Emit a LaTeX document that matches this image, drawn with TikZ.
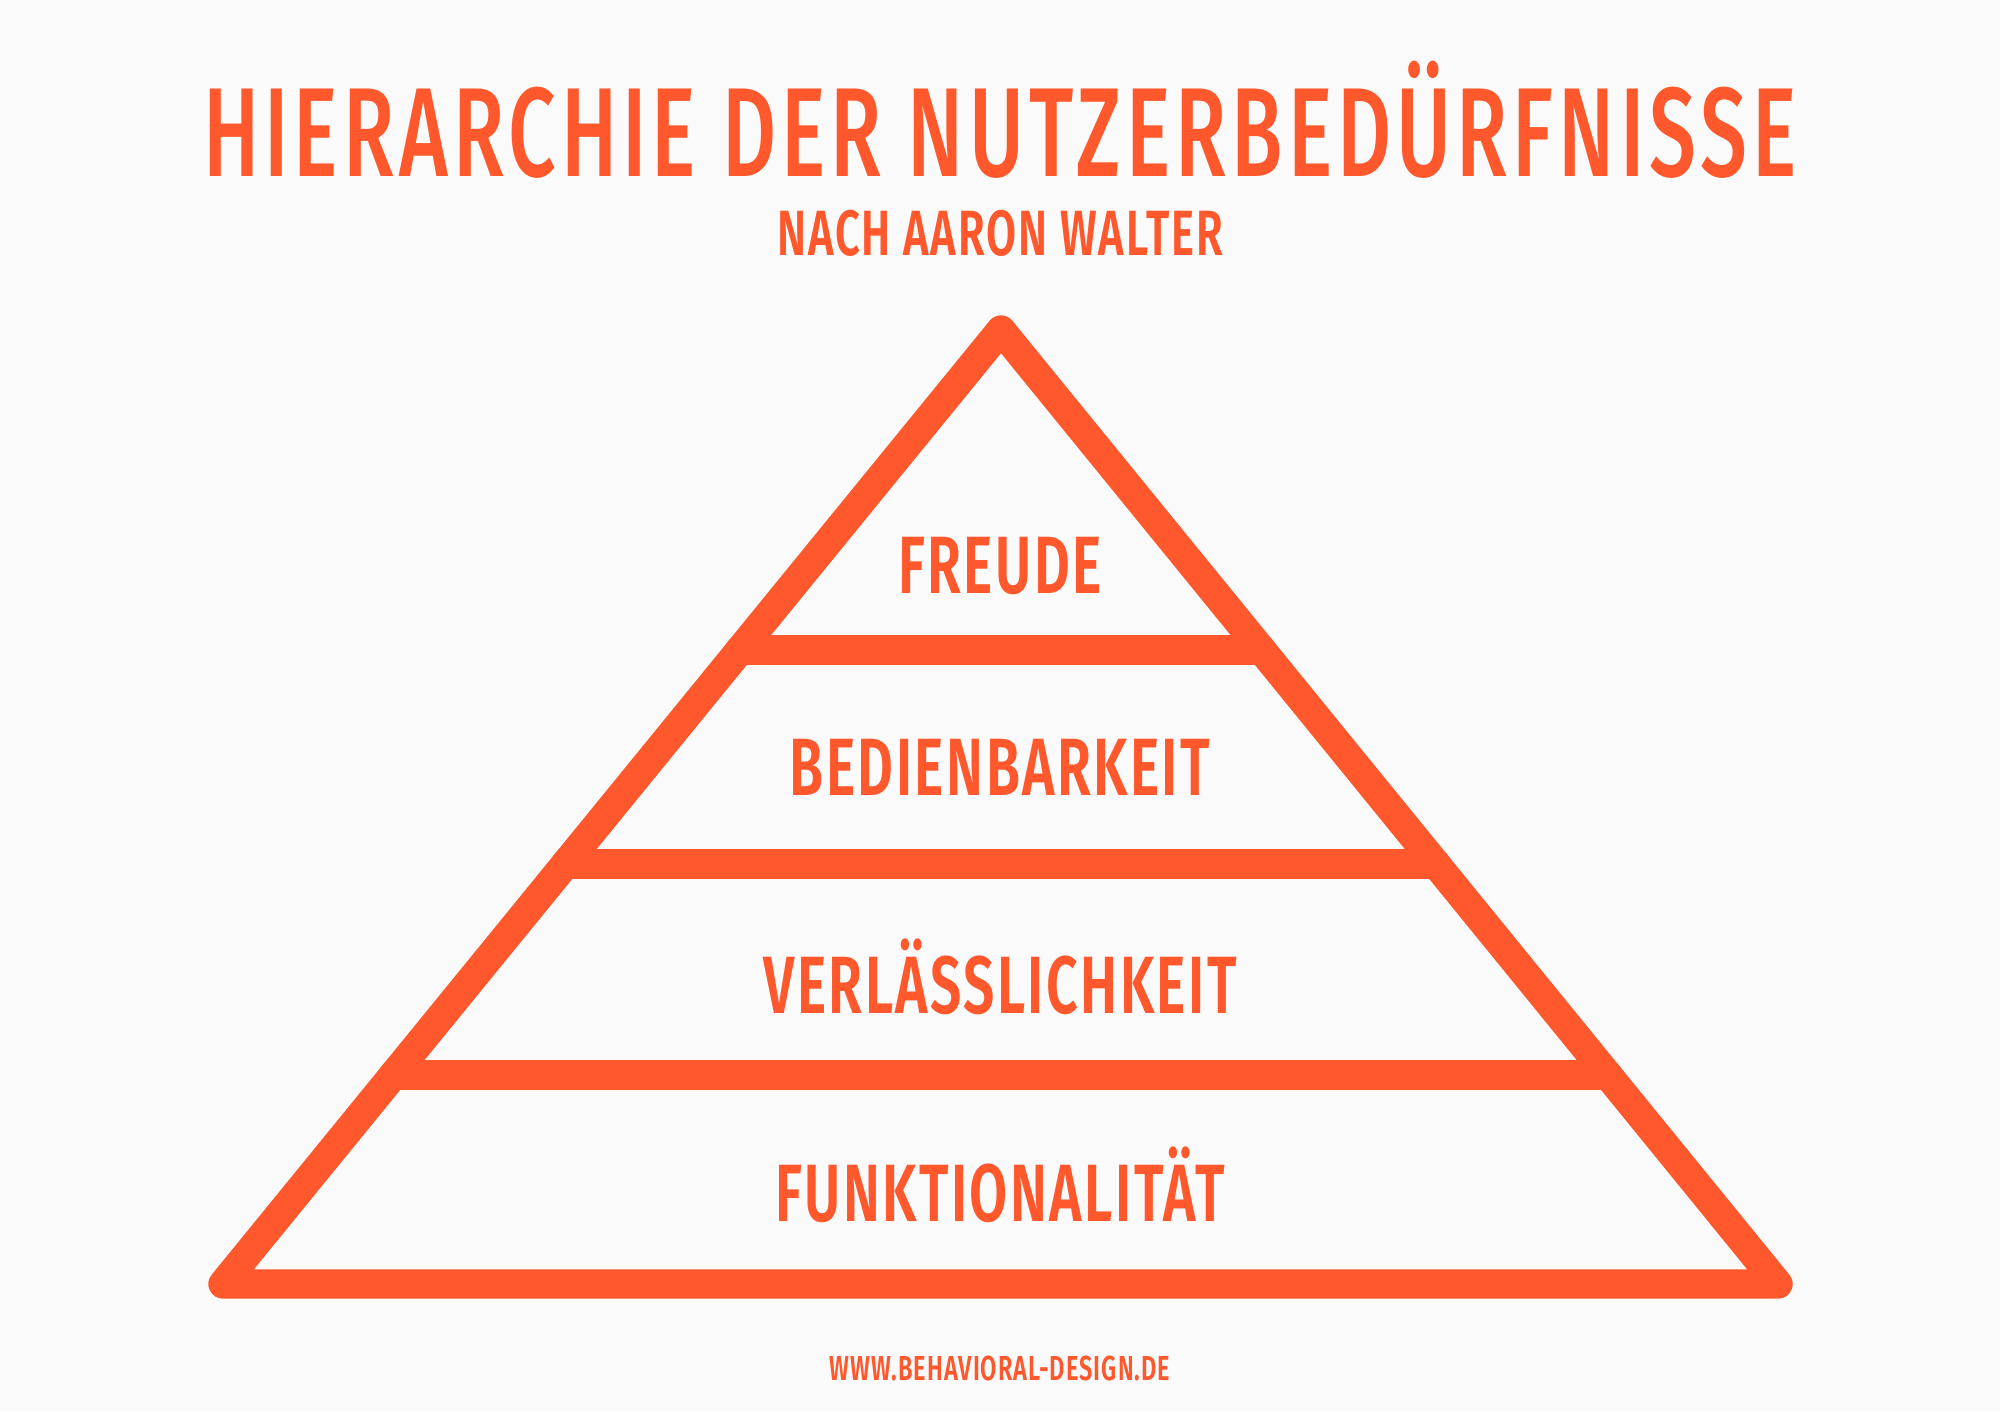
\documentclass[tikz,border=0pt]{standalone}
\usepackage{fontspec}
\usetikzlibrary{calc}
\newfontfamily\titlefont[FakeStretch=0.66,LetterSpace=4,UprightFont=* Medium]{Fira Sans}
\newfontfamily\labelfont[FakeStretch=0.68,LetterSpace=3,BoldFont=* SemiBold]{Fira Sans}
\definecolor{pyrorange}{RGB}{255,88,44}
\definecolor{paper}{RGB}{250,250,250}

\tikzset{every picture/.style={line width=0.75pt}}

\begin{document}
\begin{tikzpicture}[x=0.75pt,y=0.75pt,yscale=-1,xscale=1,
  tier/.style={draw=pyrorange,line width=22pt,line cap=round,line join=round},
  lbl/.style={text=pyrorange,anchor=base,inner sep=0pt,font=\labelfont\bfseries\fontsize{61}{61}\selectfont}]
%background, sets the frame
\fill[paper] (0,0) rectangle (2000,1411);
\useasboundingbox (0,0) rectangle (2000,1411);

%Corners of the pyramid
\coordinate (top) at (1001,330);
\coordinate (bl) at (223,1284);
\coordinate (br) at (1778,1284);
%Ends of the tier lines
\coordinate (l1) at ($(top)!0.3354!(bl)$);
\coordinate (r1) at ($(top)!0.3354!(br)$);
\coordinate (l2) at ($(top)!0.5597!(bl)$);
\coordinate (r2) at ($(top)!0.5597!(br)$);
\coordinate (l3) at ($(top)!0.7810!(bl)$);
\coordinate (r3) at ($(top)!0.7810!(br)$);

%Triangle
\draw[tier] (top) -- (bl) -- (br) -- cycle;
%Straight Lines
\draw[tier] (l1) -- (r1);
\draw[tier] (l2) -- (r2);
\draw[tier] (l3) -- (r3);

% Text Node
\node (title) [anchor=base,inner sep=0pt,text=pyrorange,font=\titlefont\fontsize{95}{95}\selectfont] at (1000,176) {HIERARCHIE DER NUTZERBEDÜRFNISSE};
% Text Node
\node (author) [lbl,font=\labelfont\bfseries\fontsize{48}{48}\selectfont] at (1000,255) {NACH AARON WALTER};
% Text Node
\node (joy) [lbl] at (1000,593) {FREUDE};
% Text Node
\node (usable) [lbl] at (1000,795) {BEDIENBARKEIT};
% Text Node
\node (reliable) [lbl] at (1000,1013) {VERLÄSSLICHKEIT};
% Text Node
\node (functional) [lbl] at (1000,1221) {FUNKTIONALITÄT};
% Text Node
\node (web) [lbl,font=\labelfont\bfseries\fontsize{26}{26}\selectfont] at (1000,1380) {WWW.BEHAVIORAL-DESIGN.DE};
\end{tikzpicture}
\end{document}
